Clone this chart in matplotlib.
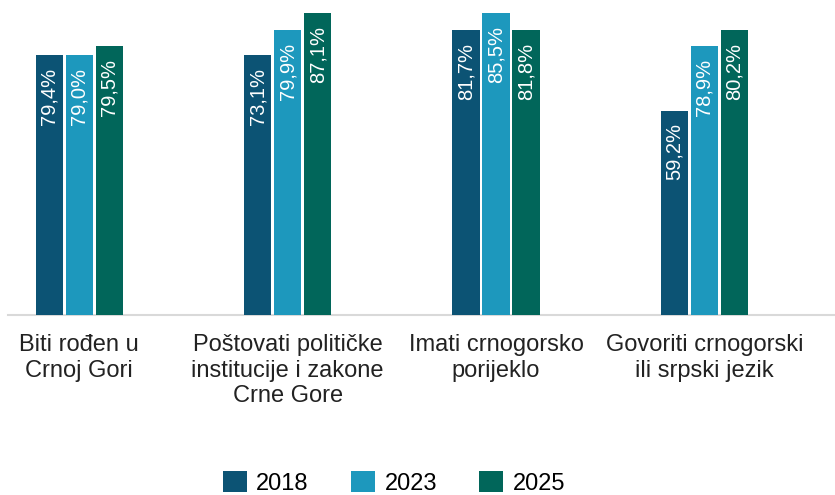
import numpy as np
import matplotlib
matplotlib.use('Agg')
import matplotlib.pyplot as plt

plt.rcParams['font.family'] = ['Liberation Sans Narrow', 'Liberation Sans', 'DejaVu Sans']

categories = ['Biti rođen u\nCrnoj Gori',
              'Poštovati političke\ninstitucije i zakone\nCrne Gore',
              'Imati crnogorsko\nporijeklo',
              'Govoriti crnogorski\nili srpski jezik']
years = ['2018', '2023', '2025']
colors = ['#0c5374', '#1d98bd', '#01665a']

# values printed on the bars
labels_2018 = ['79,4%', '73,1%', '81,7%', '59,2%']
labels_2023 = ['79,0%', '79,9%', '85,5%', '78,9%']
labels_2025 = ['79,5%', '87,1%', '81,8%', '80,2%']

# bar heights as drawn in the picture (percent scale)
heights_2018 = [75.4, 75.4, 82.6, 59.2]
heights_2023 = [75.4, 82.6, 87.6, 78.0]
heights_2025 = [78.0, 87.6, 82.6, 82.6]

heights = [heights_2018, heights_2023, heights_2025]
labels = [labels_2018, labels_2023, labels_2025]

fig = plt.figure(figsize=(8.35, 4.95), dpi=100)
ax = fig.add_axes([8/835, 180/495, 1 - 8/835, 315/495])

x = np.arange(len(categories))
w = 0.13
step = 0.144
for i in range(3):
    pos = x + (i - 1) * step
    bars = ax.bar(pos, heights[i], width=w, color=colors[i], label=years[i], zorder=3)
    for b, lab in zip(bars, labels[i]):
        ax.annotate(lab, (b.get_x() + b.get_width() / 2, b.get_height()),
                    xytext=(0, -9), textcoords='offset points',
                    rotation=90, ha='center', va='top',
                    color='white', fontsize=14.5, zorder=4)

ax.set_ylim(0, 91.4)
ax.set_xlim(-0.342, 3.627)
ax.set_yticks([])
ax.set_xticks(x)
ax.set_xticklabels(categories, fontsize=17, linespacing=1.2, color='#222222')
ax.tick_params(axis='x', length=0, pad=14)
for s in ['top', 'right', 'left']:
    ax.spines[s].set_visible(False)
ax.spines['bottom'].set_color('#d9d9d9')
ax.spines['bottom'].set_linewidth(1.5)

fig.legend(loc='upper center', bbox_to_anchor=(0.472, 24/495), ncol=3,
           frameon=False, fontsize=17, handlelength=1.0, handleheight=1.0,
           handletextpad=0.4, columnspacing=1.8, borderaxespad=0, borderpad=0)

fig.savefig('out.png', dpi=100)
